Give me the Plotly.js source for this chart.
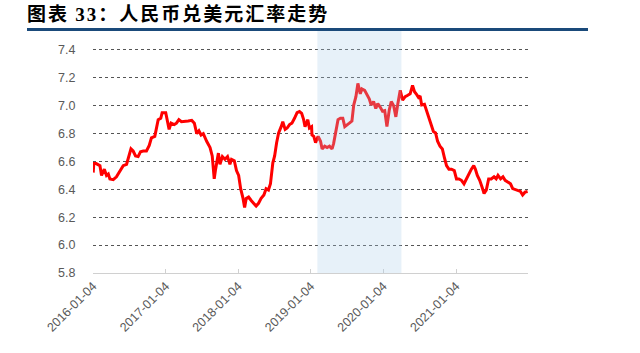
<!DOCTYPE html>
<html>
<head>
<meta charset="utf-8">
<script src="https://cdn.plot.ly/plotly-3.0.1.min.js"></script>
<style>html,body{margin:0;padding:0;background:#fff;}#chart{width:640px;height:353px;}</style>
</head>
<body>
<div id="chart"></div>
<script>
// USD/CNY rate
const dates = [
"2016-01-05","2016-01-08","2016-01-20","2016-02-08","2016-02-16","2016-03-01","2016-03-12","2016-03-21","2016-03-29","2016-04-15",
"2016-05-01","2016-05-19","2016-06-04","2016-06-21","2016-07-03","2016-07-13","2016-07-24","2016-08-05","2016-08-18","2016-08-30",
"2016-09-13","2016-09-29","2016-10-13","2016-10-24","2016-11-10","2016-11-18","2016-11-27","2016-12-10","2016-12-17","2017-01-04",
"2017-01-14","2017-01-21","2017-01-31","2017-02-16","2017-02-27","2017-03-11","2017-03-24","2017-04-10","2017-04-27","2017-05-15",
"2017-05-28","2017-06-09","2017-06-20","2017-07-01","2017-07-12","2017-07-29","2017-08-15","2017-08-26","2017-09-05","2017-09-12",
"2017-09-26","2017-10-04","2017-10-16","2017-10-29","2017-11-11","2017-11-23","2017-12-01","2017-12-15","2017-12-26","2018-01-06",
"2018-01-16","2018-01-28","2018-02-05","2018-02-13","2018-02-25","2018-03-10","2018-03-24","2018-04-04","2018-04-16","2018-04-29",
"2018-05-13","2018-05-24","2018-06-05","2018-06-15","2018-06-27","2018-07-06","2018-07-16","2018-07-26","2018-08-08","2018-08-16",
"2018-08-28","2018-09-07","2018-09-19","2018-10-01","2018-10-14","2018-10-27","2018-11-08","2018-11-19","2018-11-29","2018-12-06",
"2018-12-16","2018-12-20","2018-12-28","2019-01-08","2019-01-10","2019-01-19","2019-01-28","2019-02-10","2019-02-22","2019-03-02",
"2019-03-15","2019-03-27","2019-04-08","2019-04-21","2019-04-29","2019-05-11","2019-05-21","2019-06-02","2019-06-14","2019-06-24",
"2019-07-05","2019-07-17","2019-07-30","2019-08-08","2019-08-19","2019-08-29","2019-09-10","2019-09-18","2019-10-02","2019-10-13",
"2019-10-25","2019-11-04","2019-11-16","2019-11-27","2019-12-07","2019-12-19","2019-12-31","2020-01-11","2020-01-22","2020-02-03",
"2020-02-13","2020-02-25","2020-03-07","2020-03-17","2020-03-29","2020-04-10","2020-04-23","2020-05-06","2020-05-18","2020-05-30",
"2020-06-09","2020-06-20","2020-06-29","2020-07-07","2020-07-15","2020-07-29","2020-08-09","2020-08-21","2020-08-31","2020-09-12",
"2020-09-23","2020-10-03","2020-10-15","2020-10-27","2020-11-06","2020-11-17","2020-11-29","2020-12-12","2020-12-26","2021-01-06",
"2021-01-18","2021-01-31","2021-02-13","2021-02-25","2021-03-09","2021-03-22","2021-04-03","2021-04-11","2021-04-21","2021-05-03",
"2021-05-15","2021-05-25","2021-06-05","2021-06-17","2021-06-30","2021-07-14","2021-07-25","2021-08-03","2021-08-16","2021-08-28",
"2021-09-08","2021-09-22","2021-10-05","2021-10-16","2021-10-28","2021-11-10","2021-11-24","2021-12-05","2021-12-17","2021-12-30"
];
const rates = [
6.52,6.585,6.585,6.57,6.50,6.545,6.50,6.51,6.475,6.47,
6.49,6.535,6.57,6.58,6.64,6.69,6.675,6.64,6.635,6.67,
6.675,6.675,6.715,6.77,6.78,6.85,6.90,6.91,6.95,6.95,
6.875,6.83,6.875,6.865,6.875,6.90,6.885,6.885,6.89,6.895,
6.875,6.80,6.82,6.79,6.80,6.745,6.70,6.64,6.475,6.545,
6.66,6.58,6.635,6.615,6.635,6.58,6.615,6.605,6.535,6.50,
6.405,6.335,6.27,6.335,6.345,6.32,6.30,6.28,6.30,6.335,
6.36,6.405,6.395,6.44,6.59,6.64,6.735,6.805,6.85,6.885,
6.83,6.84,6.865,6.875,6.91,6.95,6.958,6.945,6.90,6.85,
6.885,6.90,6.84,6.85,6.79,6.78,6.735,6.78,6.745,6.69,
6.71,6.70,6.71,6.69,6.73,6.84,6.90,6.91,6.91,6.85,
6.86,6.875,6.89,7.005,7.065,7.16,7.085,7.12,7.11,7.085,
7.05,7.005,7.03,6.98,7.015,6.99,6.96,6.965,6.85,6.97,
7.03,7.00,6.92,7.015,7.11,7.04,7.065,7.075,7.085,7.145,
7.10,7.08,7.06,7.07,7.005,7.01,6.96,6.92,6.865,6.815,
6.805,6.745,6.71,6.69,6.63,6.57,6.545,6.545,6.535,6.475,
6.475,6.465,6.44,6.475,6.51,6.545,6.57,6.545,6.50,6.465,
6.415,6.37,6.395,6.475,6.475,6.49,6.475,6.50,6.475,6.49,
6.465,6.45,6.44,6.405,6.40,6.395,6.385,6.36,6.38,6.385
];
const tickDates = ["2016-01-04","2017-01-04","2018-01-04","2019-01-04","2020-01-04","2021-01-04"];
const yTicks = [5.8,6.0,6.2,6.4,6.6,6.8,7.0,7.2,7.4];
const yTickText = ["5.8","6.0","6.2","6.4","6.6","6.8","7.0","7.2","7.4"];
const shadeRange = ["2019-02-06","2020-04-04"];

const trace = {
  x: dates, y: rates, type: "scatter", mode: "lines",
  line: {color: "#ff0000", width: 3}, hoverinfo: "skip"
};

const layout = {
  width: 640, height: 353,
  margin: {l: 93, r: 112, t: 31, b: 80, pad: 0},
  paper_bgcolor: "#ffffff", plot_bgcolor: "#ffffff",
  showlegend: false,
  font: {family: "Liberation Sans, Arial, sans-serif", color: "#595959", size: 12},
  title: {
    text: '<b><span style="letter-spacing:2px">图表 <span style="font-family:\'Liberation Serif\'">33</span>：人民币兑美元汇率走势</span></b>',
    font: {family: "Noto Sans CJK SC, sans-serif", size: 19, color: "#000000"},
    x: 27/640, xref: "container", xanchor: "left",
    y: 1 - 14/353, yref: "container", yanchor: "middle"
  },
  xaxis: {
    type: "date",
    range: ["2016-01-04", "2022-01-01"],
    tickmode: "array", tickvals: tickDates, ticktext: tickDates,
    tickangle: -45,
    ticks: "inside", ticklen: 4, tickcolor: "#d0d0d0", tickwidth: 1,
    showline: true, linecolor: "#d0d0d0", linewidth: 1,
    showgrid: false, zeroline: false,
    tickfont: {size: 12.5, color: "#595959"}
  },
  yaxis: {
    range: [5.8, 7.536],
    tickmode: "array", tickvals: yTicks, ticktext: yTickText,
    showgrid: true, gridcolor: "#555555", griddash: "dot", gridwidth: 1,
    zeroline: false, showline: false,
    ticks: "outside", ticklen: 14, tickcolor: "rgba(0,0,0,0)",
    tickfont: {size: 12.5, color: "#595959"}
  },
  shapes: [
    {type: "rect", xref: "x", yref: "paper", x0: shadeRange[0], x1: shadeRange[1], y0: 0, y1: 1,
     fillcolor: "rgba(170,205,235,0.28)", line: {width: 0}, layer: "above"},
    {type: "line", xref: "paper", yref: "paper", x0: (27-93)/435, x1: (588-93)/435, y0: 1 + 1.5/242, y1: 1 + 1.5/242,
     line: {color: "#1a4a7a", width: 3}, layer: "above"}
  ]
};

Plotly.newPlot("chart", [trace], layout, {staticPlot: true, displayModeBar: false});
</script>
</body>
</html>
